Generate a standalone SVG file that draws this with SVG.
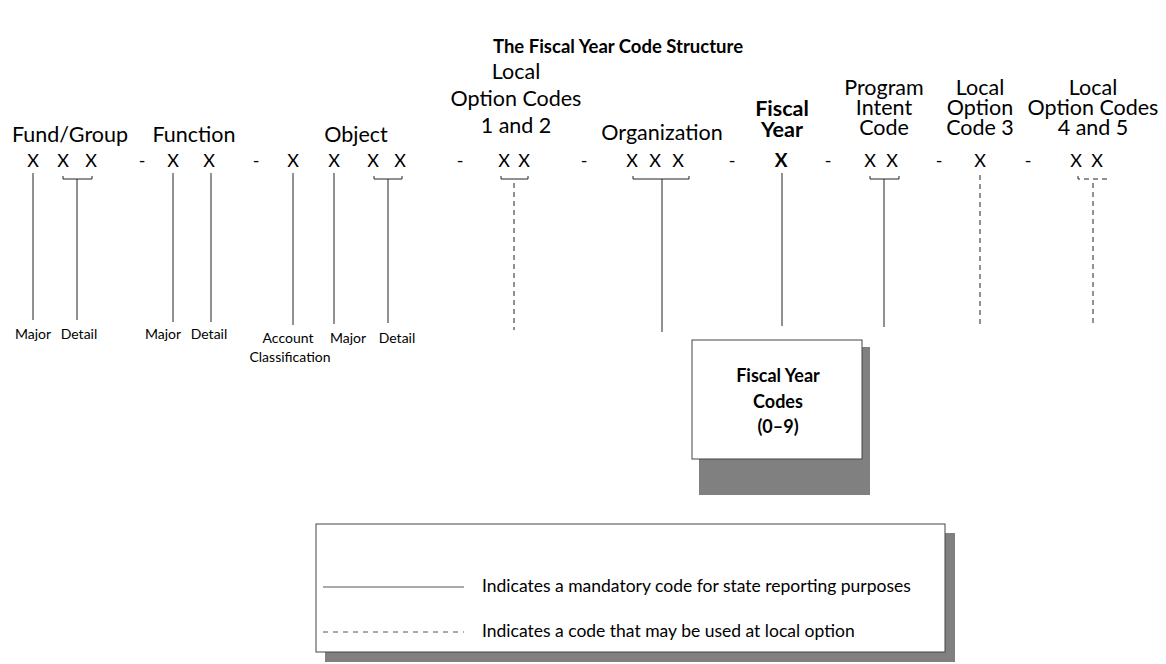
<svg xmlns="http://www.w3.org/2000/svg" width="1166" height="664" viewBox="0 0 1166 664">
<style>
text{font-family:Lato,"Liberation Sans",sans-serif;fill:#000}
.t{font-size:18.5px;font-weight:bold;text-anchor:middle}
.h{font-size:21.5px;text-anchor:middle}
.x{font-size:18px;text-anchor:middle}
.xb{font-size:19px;font-weight:bold;text-anchor:middle}
.s{font-size:14px;text-anchor:middle}
.bx{font-size:18px;font-weight:bold;text-anchor:middle}
.lg{font-size:17.5px}
.ln{stroke:#222;stroke-width:1;fill:none}
.dl{stroke:#222;stroke-width:1;fill:none;stroke-dasharray:5,4}
.shadow{fill:#808080}
.box{fill:#fff;stroke:#444;stroke-width:1}
</style>
<rect width="1166" height="664" fill="#fff"/>
<text class="t" x="618" y="53">The Fiscal Year Code Structure</text>

<g id="fund">
<text class="h" x="70" y="142">Fund/Group</text>
<text class="x" x="33" y="167">X</text><text class="x" x="63" y="167">X</text><text class="x" x="91" y="167">X</text>
<text class="s" x="33" y="339">Major</text><text class="s" x="79" y="339">Detail</text>
</g>
<text class="x" x="142" y="167">-</text>
<g id="function">
<text class="h" x="194" y="142">Function</text>
<text class="x" x="173" y="167">X</text><text class="x" x="209" y="167">X</text>
<text class="s" x="163" y="339">Major</text><text class="s" x="209" y="339">Detail</text>
</g>
<text class="x" x="256" y="167">-</text>
<g id="object">
<text class="h" x="356" y="142">Object</text>
<text class="x" x="293" y="167">X</text><text class="x" x="334" y="167">X</text><text class="x" x="373" y="167">X</text><text class="x" x="400" y="167">X</text>
<text class="s" x="288" y="343">Account</text><text class="s" x="290" y="362">Classification</text>
<text class="s" x="348" y="343">Major</text><text class="s" x="397" y="343">Detail</text>
</g>
<text class="x" x="460" y="167">-</text>
<g id="local12">
<text class="h" x="516" y="79">Local</text>
<text class="h" x="516" y="106">Option Codes</text>
<text class="h" x="516" y="133">1 and 2</text>
<text class="x" x="504" y="167">X</text><text class="x" x="524" y="167">X</text>
</g>
<text class="x" x="584" y="167">-</text>
<g id="organization">
<text class="h" x="662" y="140">Organization</text>
<text class="x" x="632" y="167">X</text><text class="x" x="655" y="167">X</text><text class="x" x="678" y="167">X</text>
</g>
<text class="x" x="732" y="167">-</text>
<g id="fiscal">
<text class="h" x="782" y="116" font-weight="bold" font-size="20">Fiscal</text>
<text class="h" x="782" y="137" font-weight="bold" font-size="20">Year</text>
<text class="xb" x="781" y="167">X</text>
</g>
<text class="x" x="828" y="167">-</text>
<g id="program">
<text class="h" x="884" y="95">Program</text>
<text class="h" x="884" y="115">Intent</text>
<text class="h" x="884" y="135">Code</text>
<text class="x" x="870" y="167">X</text><text class="x" x="892" y="167">X</text>
</g>
<text class="x" x="939" y="167">-</text>
<g id="local3">
<text class="h" x="980" y="95">Local</text>
<text class="h" x="980" y="115">Option</text>
<text class="h" x="980" y="135">Code 3</text>
<text class="x" x="980" y="167">X</text>
</g>
<text class="x" x="1028" y="167">-</text>
<g id="local45">
<text class="h" x="1093" y="95">Local</text>
<text class="h" x="1093" y="115">Option Codes</text>
<text class="h" x="1093" y="135">4 and 5</text>
<text class="x" x="1076" y="167">X</text><text class="x" x="1097" y="167">X</text>
</g>

<g id="connectors">
<line class="ln" x1="33" y1="173" x2="33" y2="320"/>
<path class="ln" d="M63,176V179H92V176M77,179V320"/>
<line class="ln" x1="173" y1="173" x2="173" y2="322"/>
<line class="ln" x1="211" y1="173" x2="211" y2="322"/>
<line class="ln" x1="293" y1="173" x2="293" y2="325"/>
<line class="ln" x1="334" y1="173" x2="334" y2="324"/>
<path class="ln" d="M374,176V179H402V176M388,179V323"/>
<path class="ln" d="M501,176V179H528V176"/>
<line class="dl" x1="514" y1="183" x2="514" y2="330"/>
<path class="ln" d="M633,176V179H689V176M662,179V332"/>
<line class="ln" x1="782" y1="173" x2="782" y2="326"/>
<path class="ln" d="M870,176V179H899V176M884,179V327"/>
<line class="dl" x1="980" y1="175" x2="980" y2="326"/>
<path class="dl" d="M1078,176V179H1107V176"/>
<line class="dl" x1="1093" y1="183" x2="1093" y2="326"/>
</g>

<g id="fiscal-codes">
<rect class="shadow" x="699" y="347" width="171" height="148"/>
<rect class="box" x="692" y="340" width="170" height="119"/>
<text class="bx" x="778" y="382">Fiscal Year</text>
<text class="bx" x="778" y="408">Codes</text>
<text class="bx" x="778" y="433">(0–9)</text>
</g>

<g id="legend">
<rect class="shadow" x="325" y="533" width="630" height="129"/>
<rect class="box" x="316" y="524" width="629" height="128"/>
<line x1="323" y1="587" x2="464" y2="587" stroke="#555" stroke-width="1"/>
<text class="lg" x="482" y="592">Indicates a mandatory code for state reporting purposes</text>
<line x1="323" y1="632" x2="464" y2="632" stroke="#555" stroke-width="1" stroke-dasharray="5,5"/>
<text class="lg" x="482" y="637">Indicates a code that may be used at local option</text>
</g>
</svg>
